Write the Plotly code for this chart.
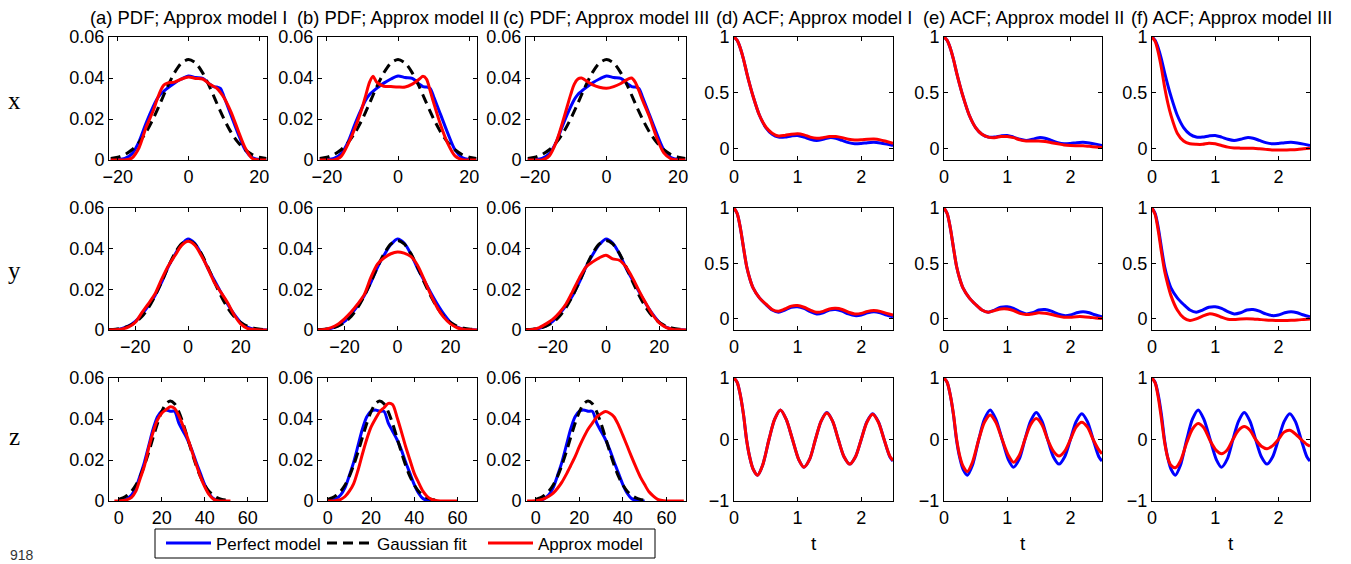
import plotly.graph_objects as go

# ---------------- DATA ----------------
titles = ["(a) PDF; Approx model I", "(b) PDF; Approx model II", "(c) PDF; Approx model III",
          "(d) ACF; Approx model I", "(e) ACF; Approx model II", "(f) ACF; Approx model III"]
row_names = ["x", "y", "z"]
legend_names = ["Perfect model", "Gaussian fit", "Approx model"]

# --- row x : PDFs ---
grid_x = [-22, -20, -18, -16, -14, -12, -10, -9, -8, -7, -6, -4, -2, 0, 2, 4, 6, 7, 8, 9, 10, 12, 14, 16, 18, 20, 22]
pdf_perfect_x = [0, 0.0002, 0.0008, 0.003, 0.009, 0.018, 0.026, 0.0295, 0.032, 0.0335, 0.035, 0.0375, 0.0395, 0.041, 0.0402, 0.0398, 0.037, 0.0358, 0.0356, 0.035, 0.031, 0.022, 0.013, 0.005, 0.0012, 0.0002, 0]
pdf_gauss_x = [0.0007, 0.0014, 0.0027, 0.005, 0.0086, 0.0136, 0.0201, 0.0238, 0.0277, 0.0317, 0.0356, 0.0425, 0.0473, 0.049, 0.0473, 0.0425, 0.0356, 0.0317, 0.0277, 0.0238, 0.0201, 0.0136, 0.0086, 0.005, 0.0027, 0.0014, 0.0007]
pdf_model1_x = [0, 0, 0, 0.001, 0.006, 0.016, 0.024, 0.029, 0.0335, 0.0365, 0.0375, 0.038, 0.0395, 0.0405, 0.0398, 0.0395, 0.037, 0.036, 0.035, 0.033, 0.0305, 0.0235, 0.0145, 0.006, 0.0008, 0, 0]
pdf_model2_x = [0, 0, 0, 0.0018, 0.008, 0.016, 0.026, 0.032, 0.038, 0.0408, 0.038, 0.036, 0.0358, 0.0356, 0.0356, 0.037, 0.0395, 0.0408, 0.0395, 0.034, 0.028, 0.017, 0.008, 0.002, 0.0002, 0, 0]
pdf_model3_x = [0, 0, 0, 0.002, 0.009, 0.02, 0.032, 0.037, 0.0395, 0.040, 0.039, 0.0368, 0.0355, 0.035, 0.0358, 0.0373, 0.0395, 0.040, 0.038, 0.034, 0.0294, 0.021, 0.011, 0.0035, 0.0006, 0, 0]

# --- row y : PDFs ---
grid_y = [-30, -27.5, -25, -22.5, -20, -17.5, -15, -12.5, -10, -7.5, -5, -2.5, 0, 2.5, 5, 7.5, 10, 12.5, 15, 17.5, 20, 22.5, 25, 27.5, 30]
pdf_perfect_y = [0, 0.0002, 0.0008, 0.002, 0.0042, 0.0078, 0.012, 0.017, 0.0235, 0.031, 0.037, 0.042, 0.0448, 0.0428, 0.0375, 0.0305, 0.0245, 0.0185, 0.0128, 0.0078, 0.0038, 0.0014, 0.0004, 0.0001, 0]
pdf_gauss_y = [0.0002, 0.0004, 0.0009, 0.0019, 0.0037, 0.0066, 0.011, 0.0168, 0.0237, 0.0311, 0.0377, 0.0423, 0.044, 0.0423, 0.0377, 0.0311, 0.0237, 0.0168, 0.011, 0.0066, 0.0037, 0.0019, 0.0009, 0.0004, 0.0002]
pdf_model1_y = [0, 0.0001, 0.0005, 0.0015, 0.0038, 0.0085, 0.013, 0.0178, 0.025, 0.0315, 0.0365, 0.0415, 0.0436, 0.0418, 0.0368, 0.0305, 0.0235, 0.0185, 0.0135, 0.0075, 0.0030, 0.0008, 0.0002, 0, 0]
pdf_model2_y = [0, 0.0003, 0.0012, 0.0028, 0.0055, 0.0088, 0.0128, 0.0175, 0.026, 0.0325, 0.0355, 0.0375, 0.0384, 0.0378, 0.0362, 0.032, 0.025, 0.0175, 0.011, 0.0062, 0.003, 0.0011, 0.0003, 0.0001, 0]
pdf_model3_y = [0, 0.0003, 0.0012, 0.003, 0.0052, 0.0085, 0.0128, 0.019, 0.0255, 0.031, 0.0335, 0.0355, 0.0368, 0.035, 0.0343, 0.031, 0.0255, 0.019, 0.013, 0.0075, 0.0035, 0.0013, 0.0003, 0.0001, 0]

# --- row z : PDFs ---
grid_z = [-4, -2, 0, 2, 4, 6, 8, 10, 12, 14, 16, 18, 20, 22, 24, 26, 28, 30, 32, 34, 36, 38, 40, 42, 44, 46, 48, 50, 52, 54, 56, 58, 60, 62, 64, 66, 68]
pdf_perfect_z = [None, None, 0.0001, 0.0003, 0.0012, 0.003, 0.0065, 0.0125, 0.019, 0.027, 0.035, 0.041, 0.0438, 0.0444, 0.0438, 0.0437, 0.038, 0.034, 0.030, 0.025, 0.019, 0.0135, 0.008, 0.0038, 0.0012, 0.0003, 0.0001, 0, None, None, None, None, None, None, None, None, None]
pdf_gauss_z = [None, None, 0.0008, 0.0015, 0.0028, 0.0048, 0.0078, 0.012, 0.0175, 0.0239, 0.0309, 0.0377, 0.0435, 0.0474, 0.0488, 0.0474, 0.0435, 0.0377, 0.0309, 0.0239, 0.0175, 0.012, 0.0078, 0.0048, 0.0028, 0.0015, 0.0008, 0.0004, None, None, None, None, None, None, None, None, None]
pdf_model1_z = [None, 0, 0, 0.0002, 0.0007, 0.0018, 0.0048, 0.011, 0.0172, 0.026, 0.0335, 0.0395, 0.0428, 0.0445, 0.046, 0.0452, 0.0415, 0.0365, 0.031, 0.0245, 0.018, 0.012, 0.007, 0.0032, 0.001, 0.0002, 0, 0, 0, None, None, None, None, None, None, None, None]
pdf_model2_z = [None, None, 0, 0, 0.0003, 0.0008, 0.0022, 0.0048, 0.0085, 0.015, 0.0228, 0.030, 0.036, 0.040, 0.0435, 0.0455, 0.0476, 0.047, 0.041, 0.034, 0.0266, 0.020, 0.0135, 0.009, 0.0048, 0.0022, 0.0008, 0.0002, 0, 0, 0, 0, 0, None, None, None, None]
pdf_model3_z = [0, 0, 0.0001, 0.0005, 0.0012, 0.0023, 0.0038, 0.0062, 0.0092, 0.013, 0.0172, 0.0215, 0.0265, 0.031, 0.035, 0.038, 0.041, 0.0426, 0.0436, 0.0428, 0.041, 0.037, 0.032, 0.0268, 0.0215, 0.0165, 0.0118, 0.008, 0.0045, 0.0024, 0.0008, 0.0002, 0, 0, 0, 0, 0]

# --- ACFs, rows x and y ---
lag_xy = [0, 0.05, 0.1, 0.15, 0.2, 0.25, 0.3, 0.4, 0.5, 0.6, 0.7, 0.8, 0.9, 1.0, 1.1, 1.2, 1.3, 1.4, 1.5, 1.6, 1.7, 1.8, 1.9, 2.0, 2.1, 2.2, 2.3, 2.4, 2.5]
acf_perfect_x = [1, 0.97, 0.9, 0.8, 0.68, 0.57, 0.47, 0.30, 0.19, 0.13, 0.105, 0.105, 0.115, 0.12, 0.105, 0.085, 0.075, 0.085, 0.10, 0.095, 0.075, 0.055, 0.045, 0.048, 0.055, 0.058, 0.052, 0.042, 0.03]
acf_model1_x = [1, 0.97, 0.9, 0.8, 0.68, 0.57, 0.47, 0.30, 0.195, 0.14, 0.115, 0.12, 0.13, 0.135, 0.125, 0.105, 0.095, 0.10, 0.11, 0.11, 0.10, 0.085, 0.078, 0.08, 0.085, 0.087, 0.08, 0.065, 0.05]
acf_model2_x = [1, 0.97, 0.9, 0.8, 0.68, 0.57, 0.47, 0.30, 0.19, 0.13, 0.105, 0.10, 0.11, 0.11, 0.10, 0.08, 0.07, 0.07, 0.07, 0.065, 0.055, 0.045, 0.035, 0.03, 0.028, 0.027, 0.022, 0.017, 0.012]
acf_model3_x = [1, 0.96, 0.86, 0.72, 0.55, 0.41, 0.30, 0.14, 0.07, 0.045, 0.04, 0.04, 0.05, 0.045, 0.03, 0.015, 0.008, 0.006, 0.005, 0.004, 0.0, -0.005, -0.01, -0.01, -0.01, -0.008, -0.005, 0.0, 0.005]
acf_perfect_y = [1, 0.95, 0.82, 0.64, 0.47, 0.36, 0.28, 0.19, 0.13, 0.08, 0.06, 0.08, 0.105, 0.11, 0.095, 0.065, 0.045, 0.055, 0.08, 0.085, 0.07, 0.045, 0.03, 0.035, 0.055, 0.065, 0.055, 0.035, 0.02]
acf_model1_y = [1, 0.95, 0.82, 0.64, 0.47, 0.36, 0.28, 0.19, 0.135, 0.085, 0.07, 0.09, 0.115, 0.12, 0.105, 0.08, 0.06, 0.068, 0.09, 0.095, 0.085, 0.06, 0.045, 0.05, 0.068, 0.075, 0.068, 0.05, 0.035]
acf_model2_y = [1, 0.95, 0.82, 0.64, 0.47, 0.36, 0.28, 0.19, 0.13, 0.08, 0.06, 0.075, 0.09, 0.09, 0.075, 0.05, 0.04, 0.045, 0.055, 0.05, 0.04, 0.025, 0.015, 0.015, 0.02, 0.02, 0.015, 0.008, 0.003]
acf_model3_y = [1, 0.94, 0.79, 0.60, 0.43, 0.31, 0.21, 0.08, 0.01, -0.015, 0.0, 0.025, 0.045, 0.038, 0.015, -0.003, -0.005, 0.0, 0.002, 0.0, -0.005, -0.01, -0.013, -0.015, -0.015, -0.013, -0.01, -0.005, 0.0]

# --- ACFs, row z ---
lag_z = [0, 0.05, 0.1, 0.15, 0.2, 0.25, 0.3, 0.37, 0.45, 0.55, 0.64, 0.73, 0.82, 0.92, 1.02, 1.1, 1.19, 1.28, 1.37, 1.46, 1.55, 1.64, 1.73, 1.82, 1.91, 2.0, 2.09, 2.18, 2.27, 2.36, 2.45, 2.5]
acf_perfect_z = [1, 0.93, 0.72, 0.40, -0.02, -0.30, -0.48, -0.58, -0.42, 0.0, 0.33, 0.48, 0.33, 0.0, -0.33, -0.45, -0.32, 0.0, 0.30, 0.44, 0.30, 0.0, -0.28, -0.40, -0.28, 0.0, 0.29, 0.42, 0.29, 0.0, -0.28, -0.35]
acf_model1_z = [1, 0.93, 0.72, 0.40, -0.02, -0.30, -0.48, -0.58, -0.42, 0.0, 0.33, 0.48, 0.33, 0.0, -0.33, -0.45, -0.32, 0.0, 0.30, 0.43, 0.30, 0.0, -0.28, -0.40, -0.28, 0.0, 0.28, 0.41, 0.28, 0.0, -0.27, -0.34]
acf_model2_z = [1, 0.93, 0.72, 0.41, 0.0, -0.27, -0.43, -0.52, -0.37, 0.0, 0.28, 0.40, 0.28, 0.0, -0.26, -0.37, -0.26, 0.0, 0.24, 0.34, 0.24, 0.0, -0.19, -0.27, -0.19, 0.0, 0.20, 0.28, 0.20, 0.0, -0.17, -0.23]
acf_model3_z = [1, 0.92, 0.68, 0.33, -0.05, -0.30, -0.42, -0.46, -0.35, -0.05, 0.17, 0.26, 0.19, -0.02, -0.18, -0.23, -0.17, 0.0, 0.15, 0.21, 0.15, 0.0, -0.11, -0.15, -0.10, 0.0, 0.12, 0.15, 0.09, 0.0, -0.08, -0.11]

pdf_grids = [grid_x, grid_y, grid_z]
pdf_perfect = [pdf_perfect_x, pdf_perfect_y, pdf_perfect_z]
pdf_gauss = [pdf_gauss_x, pdf_gauss_y, pdf_gauss_z]
pdf_models = [[pdf_model1_x, pdf_model2_x, pdf_model3_x],
              [pdf_model1_y, pdf_model2_y, pdf_model3_y],
              [pdf_model1_z, pdf_model2_z, pdf_model3_z]]
lag_grids = [lag_xy, lag_xy, lag_z]
acf_perfect = [acf_perfect_x, acf_perfect_y, acf_perfect_z]
acf_models = [[acf_model1_x, acf_model2_x, acf_model3_x],
              [acf_model1_y, acf_model2_y, acf_model3_y],
              [acf_model1_z, acf_model2_z, acf_model3_z]]

pdf_xranges = [[-22.5, 22.2], [-30, 30], [-4.5, 69]]
pdf_xticks = [[-20, 0, 20], [-20, 0, 20], [0, 20, 40, 60]]
acf_yranges = [[-0.1, 1], [-0.1, 1], [-1, 1]]
acf_yticks = [[0, 0.5, 1], [0, 0.5, 1], [-1, 0, 1]]

# ---------------- STYLE / LAYOUT ----------------
W, H = 1351, 564
col_px = [(109, 267), (318, 477), (526, 686), (734, 893), (944, 1102), (1152, 1310)]
row_px = [(37, 160), (208, 330), (378, 501)]
BLUE, RED, BLACK = "#0000ff", "#ff0000", "#000000"
LW = 3
SANS = "Liberation Sans, Arial, sans-serif"
SERIF = "Liberation Serif, Times New Roman, serif"

fig = go.Figure()
layout = dict(width=W, height=H, autosize=False,
              margin=dict(l=0, r=0, t=0, b=0, pad=0, autoexpand=False),
              paper_bgcolor="white", plot_bgcolor="white",
              font=dict(family=SANS, size=18, color=BLACK))


def axis_common():
    return dict(showline=True, linecolor=BLACK, linewidth=1, mirror="allticks",
                ticks="inside", ticklen=4, tickwidth=1, tickcolor=BLACK, automargin=False,
                showgrid=False, zeroline=False, tickfont=dict(family=SANS, size=18, color=BLACK))


for r in range(3):
    for c in range(6):
        k = r * 6 + c + 1
        xname = "xaxis" if k == 1 else f"xaxis{k}"
        yname = "yaxis" if k == 1 else f"yaxis{k}"
        xref = "x" if k == 1 else f"x{k}"
        yref = "y" if k == 1 else f"y{k}"
        x0, x1 = col_px[c]
        y0, y1 = row_px[r]
        xa = axis_common()
        ya = axis_common()
        xa.update(domain=[x0 / W, x1 / W], anchor=yref)
        ya.update(domain=[1 - y1 / H, 1 - y0 / H], anchor=xref)
        if c < 3:
            xa.update(range=pdf_xranges[r], tickvals=pdf_xticks[r])
            ya.update(range=[0, 0.06], tickvals=[0, 0.02, 0.04, 0.06],
                      ticktext=["0", "0.02", "0.04", "0.06"])
            g = pdf_grids[r]
            show = (r == 0 and c == 0)
            fig.add_trace(go.Scatter(x=g, y=pdf_perfect[r], mode="lines", xaxis=xref, yaxis=yref,
                                     line=dict(color=BLUE, width=LW, shape="spline", smoothing=0.8),
                                     name=legend_names[0], showlegend=show, legendrank=1))
            fig.add_trace(go.Scatter(x=g, y=pdf_gauss[r], mode="lines", xaxis=xref, yaxis=yref,
                                     line=dict(color=BLACK, width=LW, dash="10px,6px", shape="spline", smoothing=0.8),
                                     name=legend_names[1], showlegend=show, legendrank=2))
            fig.add_trace(go.Scatter(x=g, y=pdf_models[r][c], mode="lines", xaxis=xref, yaxis=yref,
                                     line=dict(color=RED, width=LW, shape="spline", smoothing=0.8),
                                     name=legend_names[2], showlegend=show, legendrank=3))
        else:
            m = c - 3
            xa.update(range=[0, 2.5], tickvals=[0, 1, 2])
            ya.update(range=acf_yranges[r], tickvals=acf_yticks[r])
            t = lag_grids[r]
            fig.add_trace(go.Scatter(x=t, y=acf_perfect[r], mode="lines", xaxis=xref, yaxis=yref,
                                     line=dict(color=BLUE, width=LW, shape="spline", smoothing=0.8),
                                     showlegend=False))
            fig.add_trace(go.Scatter(x=t, y=acf_models[r][m], mode="lines", xaxis=xref, yaxis=yref,
                                     line=dict(color=RED, width=LW, shape="spline", smoothing=0.8),
                                     showlegend=False))
        layout[xname] = xa
        layout[yname] = ya

annotations = []
for c in range(6):
    cx = (col_px[c][0] + col_px[c][1]) / 2 / W
    annotations.append(dict(text=titles[c], x=cx, y=1 - 18 / H, xref="paper", yref="paper",
                            xanchor="center", yanchor="middle", showarrow=False,
                            font=dict(family=SANS, size=18.4, color=BLACK)))
for c in range(3, 6):
    cx = (col_px[c][0] + col_px[c][1]) / 2 / W
    annotations.append(dict(text="t", x=cx, y=1 - 543 / H, xref="paper", yref="paper",
                            xanchor="center", yanchor="middle", showarrow=False,
                            font=dict(family=SANS, size=19, color=BLACK)))
row_label_y = [100, 270, 436]
for r in range(3):
    annotations.append(dict(text=row_names[r], x=14 / W, y=1 - row_label_y[r] / H, xref="paper", yref="paper",
                            xanchor="center", yanchor="middle", showarrow=False,
                            font=dict(family=SERIF, size=25, color=BLACK)))
annotations.append(dict(text="918", x=8 / W, y=1 - 555 / H, xref="paper", yref="paper",
                        xanchor="left", yanchor="middle", showarrow=False,
                        font=dict(family=SANS, size=14, color="#333333")))

layout["annotations"] = annotations
layout["shapes"] = [dict(type="rect", xref="paper", yref="paper",
                         x0=155 / W, x1=655 / W, y0=1 - 558 / H, y1=1 - 529 / H,
                         line=dict(color=BLACK, width=1), fillcolor="rgba(0,0,0,0)", layer="above")]
layout["legend"] = dict(orientation="h", x=161 / W, y=1 - 543.5 / H, xanchor="left", yanchor="middle",
                        borderwidth=0, bgcolor="rgba(0,0,0,0)",
                        font=dict(family=SANS, size=17, color=BLACK), itemwidth=45,
                        entrywidth=101, entrywidthmode="pixels",
                        traceorder="normal", tracegroupgap=0)
fig.update_layout(**layout)
fig.write_html("out.html")
